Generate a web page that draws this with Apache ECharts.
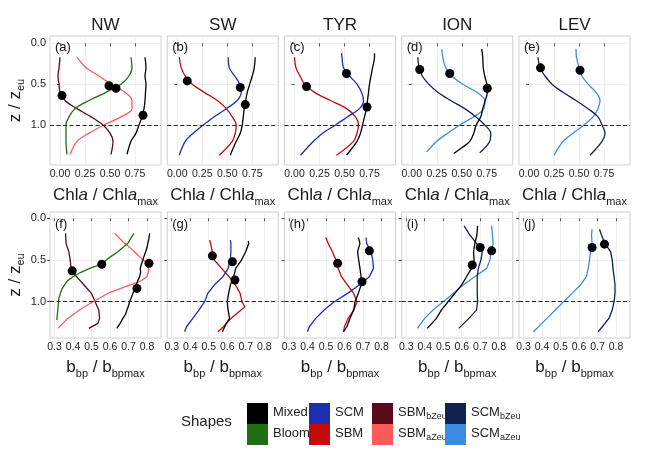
<!DOCTYPE html>
<html><head><meta charset="utf-8">
<script src="https://cdn.jsdelivr.net/npm/echarts@6/dist/echarts.min.js"></script>
<style>html,body{margin:0;padding:0;background:#fff}#c{width:648px;height:472px}</style>
</head><body><div id="c"></div><script>
// ---------- data: [value, depth z/zeu] ----------
const regions = ['NW', 'SW', 'TYR', 'ION', 'LEV'];
const chlTicks = [0, 0.25, 0.5, 0.75];
const bbpTicks = [0.3, 0.4, 0.5, 0.6, 0.7, 0.8];
const depthTicks = [0, 0.5, 1.0];
const zeuLine = 1.0;

// Chla / Chla_max (top row)
const chlNwMixed = [[0.85,0.17],[0.86,0.3],[0.85,0.4],[0.86,0.5],[0.855,0.6],[0.85,0.7],[0.84,0.8],[0.82,0.9],[0.79,1.0],[0.76,1.1],[0.71,1.2],[0.67,1.36]];
const chlNwBloom = [[0.71,0.17],[0.72,0.3],[0.69,0.4],[0.61,0.5],[0.46,0.6],[0.29,0.7],[0.15,0.8],[0.09,0.9],[0.06,1.0],[0.06,1.1],[0.06,1.2],[0.07,1.36]];
const chlNwSBMa = [[0.17,0.17],[0.26,0.3],[0.39,0.4],[0.51,0.5],[0.65,0.6],[0.72,0.7],[0.72,0.8],[0.61,0.9],[0.44,1.0],[0.29,1.1],[0.17,1.2],[0.10,1.36]];
const chlNwSBMb = [[0.0,0.17],[-0.01,0.3],[-0.02,0.4],[-0.01,0.5],[0.0,0.6],[0.05,0.7],[0.17,0.8],[0.31,0.9],[0.43,1.0],[0.50,1.1],[0.53,1.2],[0.51,1.36]];
const chlNwDots = [[0.02,0.64],[0.49,0.52],[0.56,0.55],[0.83,0.88]];

const chlSwMixed = [[0.78,0.17],[0.77,0.3],[0.75,0.4],[0.725,0.5],[0.70,0.6],[0.685,0.7],[0.67,0.8],[0.66,0.9],[0.65,1.0],[0.63,1.1],[0.59,1.2],[0.53,1.37]];
const chlSwSCM = [[0.51,0.17],[0.52,0.3],[0.575,0.4],[0.625,0.5],[0.64,0.6],[0.60,0.7],[0.49,0.8],[0.37,0.9],[0.26,1.0],[0.16,1.1],[0.08,1.2],[0.02,1.37]];
const chlSwSBM = [[0.02,0.17],[0.04,0.3],[0.08,0.4],[0.15,0.5],[0.27,0.6],[0.40,0.7],[0.49,0.8],[0.55,0.9],[0.59,1.0],[0.58,1.1],[0.55,1.2],[0.42,1.37]];
const chlSwDots = [[0.10,0.46],[0.63,0.54],[0.68,0.75]];

const chlTyrMixed = [[0.80,0.12],[0.80,0.17],[0.78,0.3],[0.765,0.4],[0.75,0.5],[0.74,0.6],[0.73,0.7],[0.72,0.8],[0.70,0.9],[0.68,1.0],[0.66,1.1],[0.625,1.2],[0.52,1.37]];
const chlTyrSCM = [[0.47,0.12],[0.475,0.17],[0.49,0.3],[0.55,0.4],[0.625,0.5],[0.67,0.6],[0.69,0.7],[0.65,0.8],[0.53,0.9],[0.41,1.0],[0.28,1.1],[0.19,1.2],[0.06,1.37]];
const chlTyrSBM = [[0.0,0.17],[0.015,0.3],[0.056,0.4],[0.10,0.5],[0.20,0.6],[0.36,0.7],[0.52,0.8],[0.61,0.9],[0.64,1.0],[0.625,1.1],[0.59,1.2],[0.42,1.37]];
const chlTyrDots = [[0.12,0.53],[0.52,0.37],[0.725,0.78]];

const chlIonMixed = [[0.70,0.07],[0.71,0.17],[0.715,0.3],[0.73,0.4],[0.75,0.5],[0.755,0.6],[0.735,0.7],[0.71,0.8],[0.69,0.9],[0.645,1.0],[0.62,1.1],[0.58,1.2],[0.50,1.28],[0.42,1.35]];
const chlIonSCMa = [[0.30,0.07],[0.31,0.17],[0.34,0.3],[0.40,0.4],[0.51,0.5],[0.65,0.6],[0.73,0.7],[0.72,0.8],[0.62,0.9],[0.48,1.0],[0.36,1.1],[0.25,1.2],[0.15,1.33]];
const chlIonSCMb = [[0.06,0.17],[0.075,0.3],[0.105,0.4],[0.17,0.5],[0.26,0.6],[0.39,0.7],[0.53,0.8],[0.64,0.9],[0.73,1.0],[0.79,1.1],[0.78,1.2],[0.68,1.34]];
const chlIonDots = [[0.08,0.32],[0.38,0.37],[0.755,0.55]];

const chlLevSCMb = [[0.09,0.17],[0.11,0.3],[0.16,0.4],[0.23,0.5],[0.34,0.6],[0.47,0.7],[0.59,0.8],[0.69,0.9],[0.73,1.0],[0.76,1.1],[0.73,1.2],[0.61,1.37]];
const chlLevSCMa = [[0.47,0.07],[0.475,0.17],[0.50,0.3],[0.53,0.4],[0.59,0.5],[0.67,0.6],[0.71,0.7],[0.69,0.8],[0.64,0.9],[0.55,1.0],[0.44,1.1],[0.34,1.2],[0.25,1.37]];
const chlLevDots = [[0.115,0.30],[0.51,0.33]];

// b_bp / b_bpmax (bottom row)
const bbpNwMixed = [[0.815,0.18],[0.81,0.25],[0.805,0.3],[0.80,0.35],[0.793,0.4],[0.785,0.45],[0.778,0.5],[0.77,0.55],[0.764,0.6],[0.766,0.65],[0.76,0.7],[0.75,0.75],[0.742,0.8],[0.735,0.85],[0.724,0.9],[0.716,0.95],[0.706,1.0],[0.70,1.05],[0.692,1.1],[0.684,1.15],[0.67,1.2],[0.655,1.26],[0.637,1.32]];
const bbpNwBloom = [[0.73,0.18],[0.71,0.25],[0.697,0.3],[0.67,0.35],[0.643,0.4],[0.61,0.45],[0.58,0.5],[0.556,0.55],[0.49,0.6],[0.44,0.65],[0.40,0.7],[0.37,0.75],[0.354,0.8],[0.34,0.85],[0.332,0.9],[0.325,0.95],[0.322,1.0],[0.318,1.1],[0.313,1.22]];
const bbpNwSBMa = [[0.625,0.18],[0.67,0.28],[0.733,0.4],[0.77,0.48],[0.80,0.54],[0.81,0.62],[0.80,0.7],[0.76,0.76],[0.706,0.8],[0.598,0.89],[0.508,1.0],[0.435,1.1],[0.372,1.2],[0.318,1.32]];
const bbpNwSBMb = [[0.36,0.18],[0.363,0.3],[0.37,0.35],[0.378,0.4],[0.385,0.5],[0.39,0.6],[0.40,0.65],[0.42,0.7],[0.44,0.75],[0.46,0.8],[0.48,0.85],[0.50,0.9],[0.51,0.95],[0.52,1.0],[0.53,1.05],[0.54,1.1],[0.544,1.2],[0.535,1.26],[0.486,1.32]];
const bbpNwDots = [[0.396,0.63],[0.556,0.55],[0.811,0.54],[0.746,0.84]];

const bbpSwSBM = [[0.505,0.26],[0.51,0.3],[0.52,0.4],[0.53,0.5],[0.57,0.6],[0.61,0.7],[0.645,0.8],[0.67,0.9],[0.68,1.0],[0.695,1.06],[0.675,1.1],[0.62,1.2],[0.58,1.3],[0.55,1.36]];
const bbpSwSCM = [[0.617,0.26],[0.62,0.3],[0.62,0.4],[0.617,0.5],[0.605,0.6],[0.577,0.7],[0.53,0.8],[0.495,0.9],[0.478,1.0],[0.447,1.1],[0.414,1.2],[0.38,1.3],[0.37,1.36]];
const bbpSwMixed = [[0.713,0.27],[0.717,0.3],[0.70,0.4],[0.677,0.5],[0.646,0.6],[0.635,0.7],[0.617,0.8],[0.608,0.9],[0.60,1.0],[0.605,1.1],[0.613,1.2],[0.595,1.26],[0.574,1.36]];
const bbpSwDots = [[0.52,0.45],[0.628,0.52],[0.642,0.74]];

const bbpTyrSBM = [[0.499,0.23],[0.512,0.3],[0.535,0.4],[0.554,0.5],[0.566,0.6],[0.584,0.7],[0.617,0.8],[0.65,0.9],[0.668,1.0],[0.65,1.1],[0.62,1.2],[0.60,1.3],[0.595,1.36]];
const bbpTyrMixed = [[0.675,0.23],[0.684,0.3],[0.671,0.4],[0.677,0.5],[0.684,0.6],[0.69,0.7],[0.69,0.8],[0.675,0.9],[0.657,1.0],[0.65,1.1],[0.63,1.2],[0.613,1.3],[0.595,1.36]];
const bbpTyrSCM = [[0.717,0.23],[0.72,0.3],[0.744,0.4],[0.753,0.5],[0.757,0.6],[0.735,0.7],[0.68,0.8],[0.617,0.9],[0.545,1.0],[0.49,1.1],[0.445,1.2],[0.41,1.3],[0.40,1.36]];
const bbpTyrDots = [[0.563,0.54],[0.695,0.76],[0.735,0.39]];

const bbpIonSCMa = [[0.762,0.09],[0.766,0.2],[0.77,0.3],[0.758,0.4],[0.753,0.5],[0.735,0.6],[0.67,0.7],[0.608,0.8],[0.554,0.9],[0.50,1.0],[0.445,1.1],[0.40,1.2],[0.36,1.32]];
const bbpIonMixed = [[0.686,0.09],[0.682,0.2],[0.671,0.3],[0.664,0.4],[0.667,0.5],[0.653,0.6],[0.626,0.7],[0.599,0.8],[0.563,0.9],[0.526,1.0],[0.49,1.1],[0.463,1.2],[0.414,1.32]];
const bbpIonSCMb = [[0.613,0.09],[0.644,0.2],[0.68,0.3],[0.711,0.4],[0.704,0.5],[0.69,0.6],[0.684,0.7],[0.684,0.8],[0.684,0.9],[0.686,1.0],[0.68,1.1],[0.639,1.2],[0.584,1.32]];
const bbpIonDots = [[0.70,0.35],[0.762,0.39],[0.657,0.56]];

const bbpLevSCMa = [[0.671,0.13],[0.668,0.2],[0.671,0.3],[0.662,0.4],[0.657,0.5],[0.65,0.6],[0.64,0.7],[0.608,0.8],[0.563,0.9],[0.517,1.0],[0.472,1.1],[0.427,1.2],[0.354,1.36]];
const bbpLevSCMb = [[0.711,0.13],[0.722,0.2],[0.74,0.3],[0.771,0.4],[0.78,0.5],[0.784,0.6],[0.79,0.7],[0.795,0.8],[0.795,0.9],[0.79,1.0],[0.78,1.1],[0.762,1.2],[0.726,1.3],[0.704,1.36]];
const bbpLevDots = [[0.671,0.35],[0.738,0.31]];

const legendGroups = [['Mixed','Bloom'],['SCM','SBM'],['SBMbZeu','SBMaZeu'],['SCMbZeu','SCMaZeu']];

// ---------- styling ----------
const colors = {Mixed:'#000000', Bloom:'#1f6e12', SCM:'#1c2fb0', SBM:'#c20b0b', SBMbZeu:'#5a0a1c', SBMaZeu:'#ff5a5a', SCMbZeu:'#102350', SCMaZeu:'#3d8ae2'};
const panels = [
  {lines:[['SBMbZeu',chlNwSBMb],['SBMaZeu',chlNwSBMa],['Bloom',chlNwBloom],['Mixed',chlNwMixed]], dots:chlNwDots},
  {lines:[['SBM',chlSwSBM],['SCM',chlSwSCM],['Mixed',chlSwMixed]], dots:chlSwDots},
  {lines:[['SBM',chlTyrSBM],['SCM',chlTyrSCM],['Mixed',chlTyrMixed]], dots:chlTyrDots},
  {lines:[['SCMaZeu',chlIonSCMa],['SCMbZeu',chlIonSCMb],['Mixed',chlIonMixed]], dots:chlIonDots},
  {lines:[['SCMaZeu',chlLevSCMa],['SCMbZeu',chlLevSCMb]], dots:chlLevDots},
  {lines:[['SBMbZeu',bbpNwSBMb],['SBMaZeu',bbpNwSBMa],['Bloom',bbpNwBloom],['Mixed',bbpNwMixed]], dots:bbpNwDots},
  {lines:[['SBM',bbpSwSBM],['SCM',bbpSwSCM],['Mixed',bbpSwMixed]], dots:bbpSwDots},
  {lines:[['SBM',bbpTyrSBM],['SCM',bbpTyrSCM],['Mixed',bbpTyrMixed]], dots:bbpTyrDots},
  {lines:[['SCMaZeu',bbpIonSCMa],['SCMbZeu',bbpIonSCMb],['Mixed',bbpIonMixed]], dots:bbpIonDots},
  {lines:[['SCMaZeu',bbpLevSCMa],['SCMbZeu',bbpLevSCMb]], dots:bbpLevDots}
];
const letters = 'abcdefghij';
const FONT = "'Liberation Sans', Arial, Helvetica, sans-serif";
const L0 = 50, PITCH = 117.25, PW = 111;
const rowGeo = [{top:36, h:129, xmin:-0.1, xmax:1.01, ymin:-0.09, ymax:1.49},
                {top:212, h:126, xmin:0.276, xmax:0.876, ymin:-0.076, ymax:1.435}];
const nameRich = {
  n:{fontSize:17, fontFamily:FONT, color:'#1a1a1a', verticalAlign:'bottom', padding:[0,0,3,0]},
  i:{fontSize:17, fontFamily:FONT, color:'#1a1a1a', fontStyle:'italic', verticalAlign:'bottom', padding:[0,0,3,0]},
  s:{fontSize:11, fontFamily:FONT, color:'#1a1a1a', verticalAlign:'bottom'}
};

const grids = [], xAxes = [], yAxes = [], series = [], titles = [];
panels.forEach((pn, p) => {
  const r = p < 5 ? 0 : 1, c = p % 5, g = rowGeo[r];
  const left = L0 + c * PITCH;
  grids.push({left:left, top:g.top, width:PW, height:g.h, show:true, borderColor:'#cfcfcf', borderWidth:1, backgroundColor:'#fff'});
  const xt = r ? bbpTicks : chlTicks;
  xAxes.push({
    gridIndex:p, type:'value', min:g.xmin, max:g.xmax,
    axisLine:{show:false},
    axisTick:{show:true, customValues:xt, length:3, lineStyle:{color:'#555'}},
    axisLabel:{customValues:xt, formatter:v => r ? v.toFixed(1) : v.toFixed(2), fontSize:10.5, fontFamily:FONT, color:'#222', margin:4},
    splitLine:{show:true, lineStyle:{color:'#ececec', width:0.8}},
    name: r ? '{n|b}{s|bp}{n| / b}{s|bpmax}' : '{n|Chl}{i|a}{n| / Chl}{i|a}{s|max}',
    nameLocation:'middle', nameGap: r ? 21 : 22,
    nameTextStyle:{rich:nameRich}
  });
  yAxes.push({
    gridIndex:p, type:'value', inverse:true, min:g.ymin, max:g.ymax,
    axisLine:{show:false},
    axisTick:{show:true, customValues:depthTicks, length:3, lineStyle:{color:'#555'}},
    axisLabel:{show:c===0, customValues:depthTicks, formatter:v => v.toFixed(1), fontSize:11, fontFamily:FONT, color:'#222', margin:4},
    splitLine:{show:true, lineStyle:{color:'#ececec', width:0.8}},
    name: c===0 ? '{n|z / z}{s|eu}' : '', nameLocation:'middle', nameGap:18, nameRotate:90,
    nameTextStyle:{rich:nameRich}
  });
  pn.lines.forEach(([nm, data], k) => {
    const s = {
      type:'line', name:nm, xAxisIndex:p, yAxisIndex:p, data:data,
      symbol:'none', showSymbol:false, smooth: r ? false : 0.35,
      color:colors[nm], lineStyle:{width:1.3, color:colors[nm]}, silent:true, z:2
    };
    if (k === 0) s.markLine = {silent:true, symbol:'none', label:{show:false},
      lineStyle:{type:[4,2.5], color:'#222', width:1}, data:[{yAxis:zeuLine}], z:3};
    series.push(s);
  });
  series.push({type:'scatter', name:'dots', xAxisIndex:p, yAxisIndex:p, data:pn.dots,
    symbolSize:9, itemStyle:{color:'#000', opacity:1}, silent:true, z:5});
  if (r === 0) titles.push({text:regions[c], left:left + PW/2, top:17, textAlign:'center', padding:0,
    textStyle:{fontSize:17, fontWeight:'normal', color:'#1a1a1a', fontFamily:FONT}});
  titles.push({text:'(' + letters[p] + ')', left:left + 5, top:g.top + (r ? 6 : 5), padding:0,
    textStyle:{fontSize:13, fontWeight:'normal', color:'#111', fontFamily:FONT}});
});
titles.push({text:'Shapes', left:181, top:414, padding:0, textStyle:{fontSize:15, fontWeight:'normal', color:'#222', fontFamily:FONT}});

const legendLefts = [247, 309, 372, 445];
const legends = legendGroups.map((grp, i) => ({
  data:grp, orient:'vertical', left:legendLefts[i], top:403, icon:'rect',
  itemWidth:21, itemHeight:21, itemGap:0, padding:0, selectedMode:false,
  formatter: nm => {
    const m = nm.match(/^(SBM|SCM)([ab]Zeu)$/);
    return m ? '{n|' + m[1] + '}{s|' + m[2] + '}' : '{n|' + nm + '}';
  },
  textStyle:{rich:{
    n:{fontSize:13, fontFamily:FONT, color:'#222', verticalAlign:'bottom', padding:[0,0,2,0]},
    s:{fontSize:9, fontFamily:FONT, color:'#222', verticalAlign:'bottom'}
  }}
}));

const chart = echarts.init(document.getElementById('c'), null, {renderer:'canvas'});
chart.setOption({
  animation:false, backgroundColor:'#fff',
  title:titles, legend:legends, grid:grids, xAxis:xAxes, yAxis:yAxes, series:series
});
</script></body></html>
